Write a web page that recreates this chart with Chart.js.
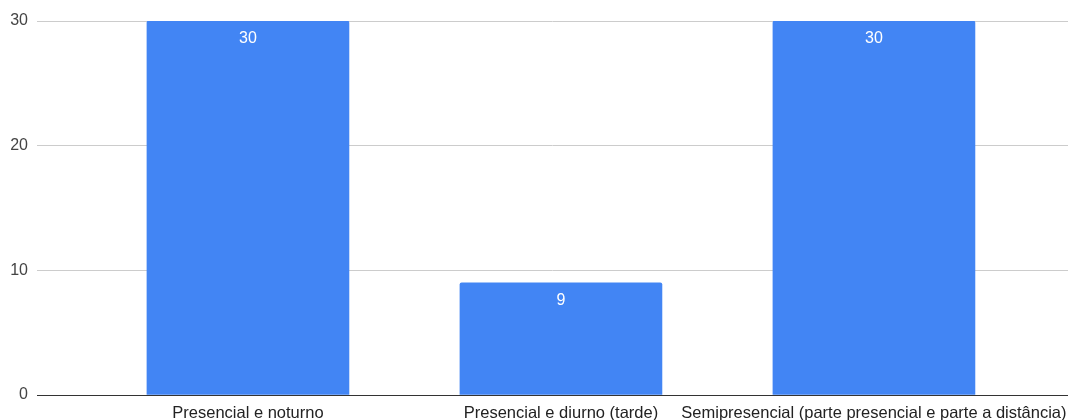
<!DOCTYPE html>
<html>
<head>
<meta charset="utf-8">
<script src="https://cdn.jsdelivr.net/npm/chart.js@4"></script>
<style>
html,body{margin:0;padding:0;background:#fff;}
#wrap{width:1068px;height:420px;position:relative;}
</style>
</head>
<body>
<div id="wrap"><canvas id="c" width="1068" height="420"></canvas></div>
<script>
const categories = ["Presencial e noturno", "Presencial e diurno (tarde)", "Semipresencial (parte presencial e parte a distância)"];
const values = [30, 9, 30];
const yTicks = [0, 10, 20, 30];

const points = categories.map((c, i) => ({x: i, y: values[i]}));
const FONT = 'Arial, "Liberation Sans", sans-serif';

const labelPlugin = {
  id: 'barLabels',
  afterDatasetsDraw(chart) {
    const ctx = chart.ctx;
    const meta = chart.getDatasetMeta(0);
    ctx.save();
    ctx.fillStyle = '#ffffff';
    ctx.font = '16px ' + FONT;
    ctx.textAlign = 'center';
    ctx.textBaseline = 'middle';
    meta.data.forEach((bar, i) => {
      ctx.fillText(String(values[i]), bar.x, bar.y + 18);
    });
    ctx.restore();
  }
};

new Chart(document.getElementById('c'), {
  type: 'bar',
  data: {
    datasets: [{
      data: points,
      backgroundColor: '#4285F4',
      borderRadius: {topLeft: 2, topRight: 2},
      borderSkipped: 'bottom',
      barThickness: 202
    }]
  },
  options: {
    responsive: false,
    animation: false,
    layout: {padding: {top: 21, right: 0, left: 0, bottom: 0}},
    plugins: {legend: {display: false}, tooltip: {enabled: false}},
    scales: {
      x: {
        type: 'linear',
        offset: false,
        min: -0.674,
        max: 2.62,
        afterBuildTicks(axis) { axis.ticks = categories.map((c, i) => ({value: i})); },
        afterFit(axis) { axis.height = 25; axis.paddingRight = 0; axis.paddingLeft = 0; },
        grid: {display: false},
        border: {display: true, color: '#333333', width: 1},
        ticks: {
          color: '#222222',
          font: {family: FONT, size: 16.5},
          padding: 1,
          maxRotation: 0,
          autoSkip: false,
          callback: (v) => categories[v] !== undefined ? categories[v] : ''
        }
      },
      y: {
        min: 0,
        max: 30,
        afterBuildTicks(axis) { axis.ticks = yTicks.map(v => ({value: v})); },
        afterFit(axis) { axis.width = 37; },
        grid: {color: '#cccccc', drawTicks: false},
        border: {display: false},
        ticks: {
          color: '#444444',
          font: {family: FONT, size: 16},
          padding: 9
        }
      }
    }
  },
  plugins: [labelPlugin]
});
</script>
</body>
</html>
